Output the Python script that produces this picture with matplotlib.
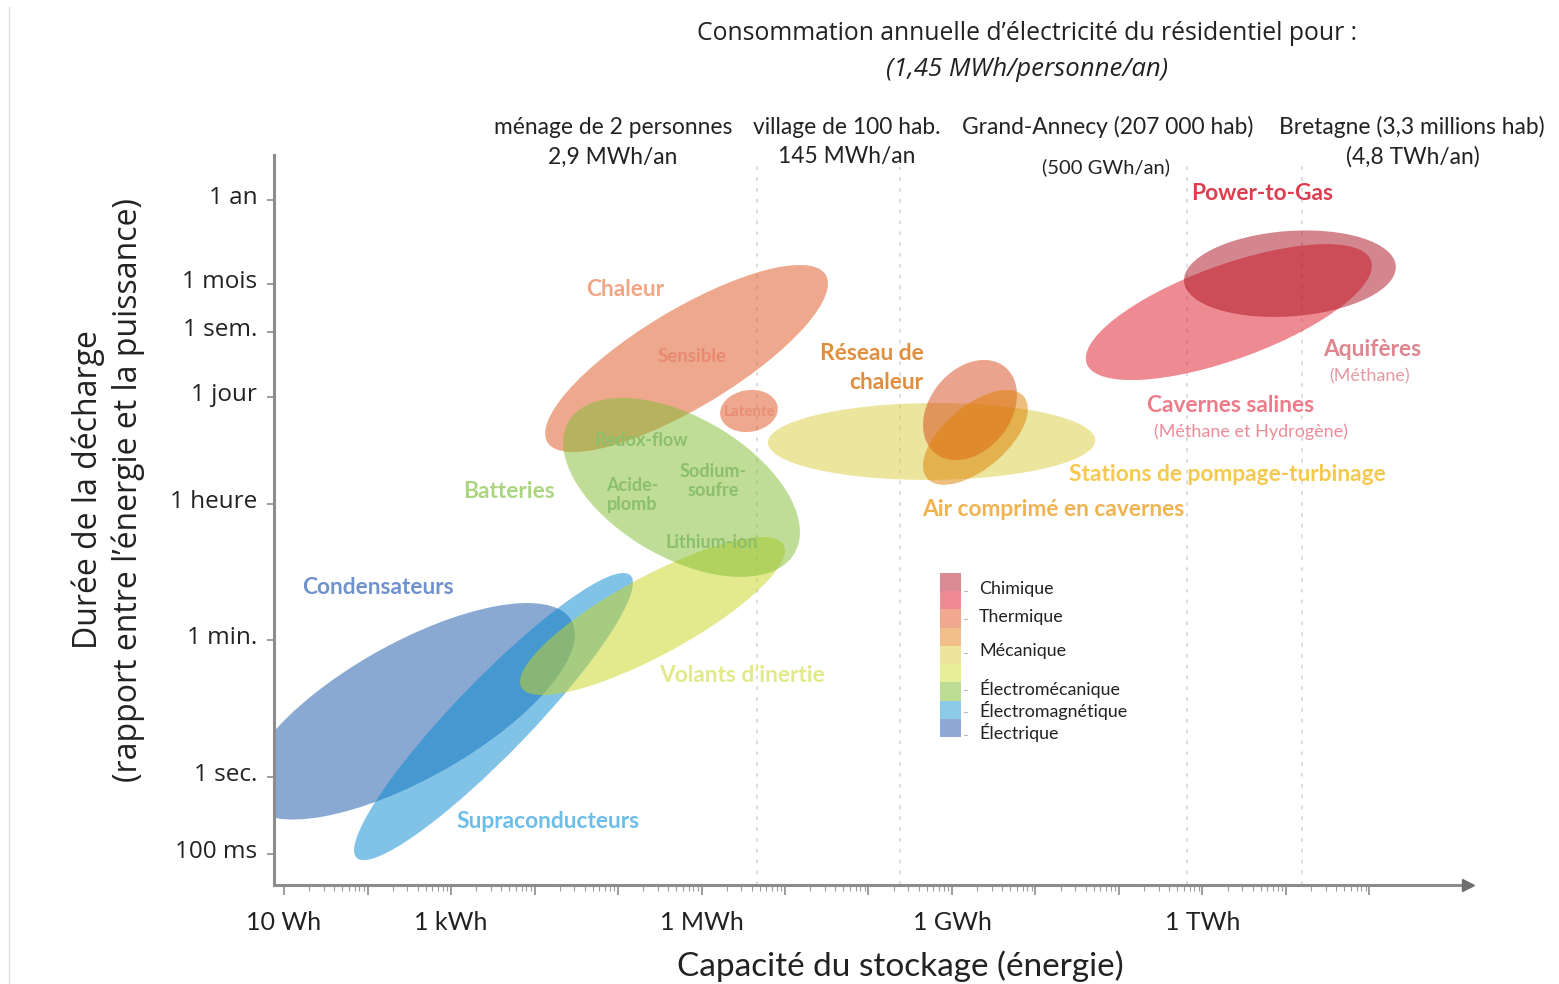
import numpy as np
import matplotlib
matplotlib.use("Agg")
import matplotlib.pyplot as plt
from matplotlib.patches import Ellipse, Rectangle
from matplotlib.lines import Line2D
from matplotlib.transforms import ScaledTranslation

W, H = 1559, 984

# ---------------- data ----------------
technologies = ["Condensateurs", "Supraconducteurs", "Volants d'inertie", "Chaleur sensible",
                "Batteries", "Chaleur latente", "Stations de pompage-turbinage",
                "Réseau de chaleur", "Air comprimé en cavernes", "Cavernes salines", "Aquifères"]
energy_min_wh = [3.4, 69, 6.7e3, 1.34e4, 2.2e4, 1.67e6, 6.25e6, 4.5e8, 4.5e8, 4.0e10, 6.0e11]
energy_max_wh = [3.05e4, 1.51e5, 1.0e7, 3.27e7, 1.51e7, 8.2e6, 5.2e10, 6.0e9, 8.1e9, 1.07e14, 2.07e14]
duration_min_s = [0.28, 0.083, 11.6, 1.68e4, 400, 3.06e4, 7.3e3, 1.32e4, 6.3e3, 1.45e5, 9.6e5]
duration_max_s = [183, 450, 1320, 4.55e6, 8.5e4, 1.08e5, 7.3e4, 2.65e5, 1.08e5, 8.5e6, 1.28e7]
tilt = [0.71, 0.93, 0.83, 0.80, -0.50, 0.10, 0.03, 0.30, 0.60, 0.68, 0.15]
fill_colors = ["#1555a9", "#0589d1", "#c9d51d", "#dd531f", "#81bd31", "#dd531f",
               "#d9cd3d", "#d7491a", "#dd7f00", "#df1727", "#ab0f1f"]

duration_ticks_s = [3.156e7, 2.592e6, 6.048e5, 8.64e4, 3.6e3, 60, 1, 0.1]
duration_tick_labels = ["1 an", "1 mois", "1 sem.", "1 jour", "1 heure", "1 min.", "1 sec.", "100 ms"]
energy_ticks_wh = [1e1, 1e3, 1e6, 1e9, 1e12]
energy_tick_labels = ["10 Wh", "1 kWh", "1 MWh", "1 GWh", "1 TWh"]

reference_lines_wh = [4.6e6, 2.4e8, 6.5e11, 1.56e13]

legend_families = ["Chimique", "Thermique", "Mécanique", "Électromécanique",
                   "Électromagnétique", "Électrique"]
legend_bar_colors = ["#d98a95", "#ef8a92", "#f0a890", "#f2be8a", "#efe59a",
                     "#e8ee98", "#bedd94", "#8ccbe8", "#8fa8d6"]

# ---------------- figure ----------------
fig = plt.figure(figsize=(W / 100, H / 100), dpi=100)
fig.patch.set_facecolor("white")

ax_l, ax_r, ax_t, ax_b = 274, 1468, 155, 885
ax = fig.add_axes([ax_l / W, 1 - ax_b / H, (ax_r - ax_l) / W, (ax_b - ax_t) / H])
ax.set_xlim(0.880, 15.180)
ax.set_ylim(-1.404, 8.088)
ax.set_facecolor("none")

for s in ["top", "right"]:
    ax.spines[s].set_visible(False)
for s in ["left", "bottom"]:
    ax.spines[s].set_color("#8c8c8c")
    ax.spines[s].set_linewidth(2.2)
ax.plot([1], [0], marker=">", color="#6f6f6f", markersize=9, transform=ax.transAxes,
        clip_on=False, zorder=5)

# reference dotted lines
for e in reference_lines_wh:
    ax.plot([np.log10(e)] * 2, [-1.404, 7.96], color="#d9d9d9", lw=1.3,
            linestyle=(0, (2, 4)), zorder=0.5)


def make_ellipse(e0, e1, t0, t1, rho, color):
    x0, x1 = np.log10([e0, e1])
    y0, y1 = np.log10([t0, t1])
    cx, cy = (x0 + x1) / 2, (y0 + y1) / 2
    hx, hy = (x1 - x0) / 2, (y1 - y0) / 2
    cov = np.array([[hx ** 2, rho * hx * hy], [rho * hx * hy, hy ** 2]])
    vals, vecs = np.linalg.eigh(cov)
    a, b = np.sqrt(vals[1]), np.sqrt(max(vals[0], 1e-9))
    ang = np.degrees(np.arctan2(vecs[1, 1], vecs[0, 1]))
    return Ellipse((cx, cy), 2 * a, 2 * b, angle=ang, facecolor=color,
                   edgecolor="none", alpha=0.5, zorder=2)


for i in range(len(technologies)):
    ax.add_patch(make_ellipse(energy_min_wh[i], energy_max_wh[i], duration_min_s[i],
                              duration_max_s[i], tilt[i], fill_colors[i]))

# ticks
ax.set_yticks(np.log10(duration_ticks_s))
ax.set_yticklabels(duration_tick_labels, fontfamily="Open Sans", fontsize=17.5, color="#222222")
ax.tick_params(axis="y", length=5, width=1.2, color="#8c8c8c", pad=7)
off = ScaledTranslation(0, 0.05, fig.dpi_scale_trans)
for lab in ax.get_yticklabels():
    lab.set_transform(lab.get_transform() + off)

major_x = list(range(1, 15))
ax.set_xticks(major_x)
lab_map = {int(round(np.log10(v))): t for v, t in zip(energy_ticks_wh, energy_tick_labels)}
ax.set_xticklabels([lab_map.get(k, "") for k in major_x], fontfamily="Lato", fontsize=18,
                   color="#222222")
minor_x = [n + np.log10(k) for n in range(1, 14) for k in range(2, 10)]
ax.set_xticks(minor_x, minor=True)
ax.tick_params(axis="x", which="major", length=7, width=1.2, color="#8c8c8c", pad=12)
ax.tick_params(axis="x", which="minor", length=4, width=0.8, color="#9c9c9c")


def ftext(x, y, s, **kw):
    kw.setdefault("ha", "center")
    kw.setdefault("va", "center")
    fig.text(x / W, 1 - y / H, s, **kw)


# axis titles
ftext(900, 966, "Capacité du stockage (énergie)", fontfamily="Lato", fontsize=24, color="#222222")
ftext(88, 490, "Durée de la décharge", fontfamily="Open Sans", fontsize=23, rotation=90,
      color="#222222")
ftext(128, 490, "(rapport entre l’énergie et la puissance)", fontfamily="Open Sans",
      fontsize=23, rotation=90, color="#222222")

# top header
ftext(1027, 33, "Consommation annuelle d’électricité du résidentiel pour :",
      fontfamily="Open Sans", fontsize=17.8, color="#222222")
ftext(1027, 69, "(1,45 MWh/personne/an)", fontfamily="Open Sans", fontsize=18.5,
      style="italic", color="#222222")
top_kw = dict(fontfamily="Lato", fontsize=16.4, color="#222222")
ftext(613, 127, "ménage de 2 personnes", **top_kw)
ftext(613, 157, "2,9 MWh/an", **top_kw)
ftext(847, 127, "village de 100 hab.", **top_kw)
ftext(847, 157, "145 MWh/an", **top_kw)
ftext(1108, 127, "Grand-Annecy (207 000 hab)", **top_kw)
ftext(1106, 167, "(500 GWh/an)", fontfamily="Lato", fontsize=14.5, color="#222222")
ftext(1412, 127, "Bretagne (3,3 millions hab)", **top_kw)
ftext(1413, 157, "(4,8 TWh/an)", **top_kw)

# region labels
B = dict(fontfamily="Lato", fontweight="bold")
big = 16.4
ftext(378, 588, "Condensateurs", color="#6f92cc", fontsize=big, **B)
ftext(548, 822, "Supraconducteurs", color="#6cbde8", fontsize=big, **B)
ftext(742, 676, "Volants d’inertie", color="#e2e98a", fontsize=big, **B)
ftext(509, 491, "Batteries", color="#acd581", fontsize=big, **B)
ftext(625, 290, "Chaleur", color="#f0a585", fontsize=big, **B)
ftext(692, 357, "Sensible", color="#e98a70", fontsize=13.5, **B)
ftext(750, 412, "Latente", color="#e98d78", fontsize=11, **B)
g = "#8cbf6c"
ftext(641, 440, "Redox-flow", color=g, fontsize=13, **B)
ftext(632, 495, "Acide-\nplomb", color=g, fontsize=13, linespacing=1.2, **B)
ftext(713, 481, "Sodium-\nsoufre", color=g, fontsize=13, linespacing=1.2, **B)
ftext(712, 542, "Lithium-ion", color=g, fontsize=13, **B)
ftext(872, 353, "Réseau de", color="#e08e3e", fontsize=big, **B)
ftext(886, 383, "chaleur", color="#e08e3e", fontsize=big, **B)
ftext(1227, 475, "Stations de pompage-turbinage", color="#f6c94e", fontsize=big, **B)
ftext(1053, 509, "Air comprimé en cavernes", color="#efb44f", fontsize=big, **B)
ftext(1262, 193, "Power-to-Gas", color="#db3f4f", fontsize=big, **B)
ftext(1372, 350, "Aquifères", color="#de8590", fontsize=big, **B)
ftext(1370, 376, "(Méthane)", color="#e39aa2", fontsize=13, fontfamily="Lato")
ftext(1231, 405, "Cavernes salines", color="#ee7b89", fontsize=big, **B)
ftext(1251, 432, "(Méthane et Hydrogène)", color="#ee8b98", fontsize=13, fontfamily="Lato")

# legend colour bar
bar_x0, bar_x1, bar_y0, bar_y1 = 940, 961, 573, 737
seg = (bar_y1 - bar_y0) / len(legend_bar_colors)
for i, c in enumerate(legend_bar_colors):
    y_top = bar_y0 + i * seg
    fig.add_artist(Rectangle((bar_x0 / W, 1 - (y_top + seg) / H), (bar_x1 - bar_x0) / W,
                             seg / H, transform=fig.transFigure, facecolor=c,
                             edgecolor="none"))
legend_y = [589, 617, 651, 688, 710, 733]
for name, y in zip(legend_families, legend_y):
    ftext(979, y, name, ha="left", fontfamily="Lato", fontsize=12.9, color="#222222")
    fig.add_artist(Line2D([964 / W, 967 / W], [1 - (y + 2) / H] * 2, color="#bbbbbb", lw=0.8))

# faint frame on the left edge
fig.add_artist(Line2D([9 / W, 9 / W], [0, 1 - 7 / H], color="#e0e0e0", lw=1))

fig.savefig("out.png", dpi=100, facecolor="white")
